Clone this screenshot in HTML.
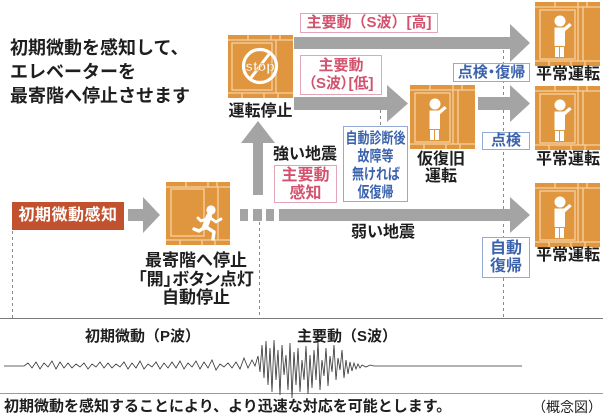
<!DOCTYPE html>
<html><head><meta charset="utf-8"><style>
html,body{margin:0;padding:0;background:#fff;}
#c{position:relative;width:603px;height:417px;overflow:hidden;background:#fff;font-family:"Liberation Sans","Noto Sans CJK JP",sans-serif;}
svg{position:absolute;left:0;top:0;}
.t{position:absolute;white-space:nowrap;text-align:center;font-weight:bold;color:#1e1e1e;}
.pk{position:absolute;box-sizing:border-box;border:1px solid #e2a6b6;background:#fff;color:#d3536f;font-weight:bold;text-align:center;white-space:nowrap;}
.bl{position:absolute;box-sizing:border-box;border:1px solid #93a9d6;background:#fff;color:#3b62ad;font-weight:bold;text-align:center;white-space:nowrap;}
.sq{display:inline-block;transform:scaleX(0.8);transform-origin:center;}
</style></head><body><div id="c">
<svg width="603" height="417" viewBox="0 0 603 417">
<defs>
<g id="frame">
<rect width="65" height="64" fill="#e0963f"/>
<g stroke="#f6d1a0" stroke-width="1.3" fill="none">
<path d="M0 5H65M0 59H65M20 0V5M43 0V5M52 0V5M14 59V64M36 59V64M50 59V64M43 5V59M48 5V59"/>
<rect x="5" y="8" width="35" height="49"/>
</g>
</g>
<g id="ev">
<use href="#frame"/>
<g fill="#fff">
<circle cx="25" cy="19" r="5.5"/>
<path d="M19.5 25.5h9.5l5.5-4.5 2.3 2.3-6.8 6v14.7h-10.5z"/>
<rect x="20" y="45" width="4" height="10"/><rect x="25" y="45" width="4" height="10"/>
</g>
</g>
</defs>

<g stroke="#8a8a8a" stroke-width="1" stroke-dasharray="3 3" fill="none">
<path d="M12.5 231V318M259.5 222V318M503.5 50V318M380.5 110V127"/>
</g>
<path d="M0 318.5H603" stroke="#7a7a7a" stroke-width="1"/>
<path d="M0 393.5H603" stroke="#9a9a9a" stroke-width="1"/>

<g fill="#a4a4a4">
<rect x="128" y="209" width="16" height="12"/><polygon points="143,197 160,215 143,233"/>
<rect x="240" y="209" width="8" height="12"/><rect x="253" y="209" width="9" height="12"/><rect x="266" y="209" width="8" height="12"/>
<rect x="279" y="209" width="232" height="12"/><polygon points="510,197 530,215 510,233"/>
<rect x="253" y="142" width="10" height="53"/><polygon points="241,143 258,121 275,143"/>
<rect x="294" y="37" width="217" height="12"/><polygon points="510,24 530,43 510,62"/>
<rect x="294" y="97" width="95" height="13"/><polygon points="387,85 408,103.5 387,122"/>
<rect x="478" y="97" width="33" height="13"/><polygon points="510,85 530,103.5 510,122"/>
</g>

<use href="#ev" x="410" y="85"/>
<use href="#ev" x="535" y="2"/>
<use href="#ev" x="535" y="86"/>
<use href="#ev" x="535" y="183"/>

<g transform="translate(228,35)">
<rect width="65" height="63" fill="#e0963f"/>
<g stroke="#f6d1a0" stroke-width="1.3" fill="none">
<path d="M0 5H65M0 58H65M20 0V5M43 0V5M52 0V5M14 58V63M36 58V63M50 58V63M48 5V58"/>
<rect x="4" y="8" width="40" height="47"/>
</g>
<circle cx="32" cy="31" r="16.5" fill="none" stroke="#fff" stroke-width="3.2"/>
<line x1="42" y1="18" x2="22" y2="44" stroke="#fff" stroke-width="3"/>
<text x="32" y="36" text-anchor="middle" font-family="Liberation Sans, sans-serif" font-weight="bold" font-size="14" fill="#fff" stroke="#e0963f" stroke-width="0.6">stop</text>
</g>

<g transform="translate(166,182)">
<rect width="64" height="63" fill="#e0963f"/>
<g stroke="#f6d1a0" stroke-width="1.3" fill="none">
<path d="M0 5H64M0 58H64M20 0V5M42 0V5M51 0V5M14 58V63M36 58V63M49 58V63M52 5V58"/>
<rect x="5" y="7" width="33" height="47"/>
</g>
<circle cx="45" cy="28" r="4.6" fill="#fff"/>
<g stroke="#fff" stroke-linecap="round" stroke-linejoin="round" fill="none">
<path d="M43 34L39 45" stroke-width="6"/>
<path d="M43 35L50 40L55 37M42 36L35 39L32 36" stroke-width="2.8"/>
<path d="M39 45L33 49L28 47M40 45L48 50L47 57" stroke-width="3.4"/>
</g>
</g>

<polyline fill="none" stroke="#333" stroke-width="0.8" points="4,366 24,366 28,363 32,368 36,362 40,369 44,363 48,367 52,361 56,369 60,362 64,368 68,363 72,368 76,364 80,367 84,363 88,369 92,364 96,367 100,362 104,368 108,363 112,368 116,364 120,367 124,362 128,369 132,363 136,368 140,361 144,369 148,364 152,367 156,362 160,369 164,363 168,368 172,362 176,368 180,361 184,369 188,363 192,367 196,361 200,369 204,362 208,368 212,360 216,370 220,364 224,367 228,363 232,368 236,362 240,369 244,358 248,368 252,360 255,366 258,356 260,372 262,345 264,378 266,341 268,385 270,348 272,392 274,340 276,380 278,350 280,395 282,345 284,375 286,355 288,390 290,343 292,398 294,352 296,385 298,348 300,392 302,360 304,380 306,346 308,394 310,355 312,388 314,350 316,380 318,342 320,390 322,360 324,376 326,348 328,386 330,356 332,372 334,345 336,380 338,358 340,370 342,350 344,378 346,360 348,374 350,362 352,371 354,363 356,369 358,364 360,368 362,365 366,367 370,365 374,366 522,366"/>
</svg>

<div class="t" style="left:10px;top:36px;font-size:18px;line-height:24px;text-align:left;">初期微動を感知して、<br>エレベーターを<br>最寄階へ停止させます</div>
<div class="t" style="left:225px;width:71px;top:103px;font-size:16px;line-height:17px;">運転停止</div>
<div class="t" style="left:270px;width:70px;top:146px;font-size:16px;line-height:17px;">強い地震</div>
<div class="t" style="left:348px;width:70px;top:224px;font-size:16px;line-height:17px;">弱い地震</div>
<div class="t" style="left:405px;width:72px;top:151px;font-size:16px;line-height:17px;">仮復旧<br>運転</div>
<div class="t" style="left:533px;width:70px;top:66px;font-size:16px;line-height:17px;">平常運転</div>
<div class="t" style="left:533px;width:70px;top:151px;font-size:16px;line-height:17px;">平常運転</div>
<div class="t" style="left:533px;width:70px;top:247px;font-size:16px;line-height:17px;">平常運転</div>
<div class="t" style="left:136px;width:120px;top:252px;font-size:17px;line-height:18.5px;">最寄階へ停止<br><span style="font-feature-settings:'palt';">「開」ボタン点灯</span><br>自動停止</div>

<div style="position:absolute;left:12px;top:202px;width:112px;height:28px;background:#c2522f;color:#fff;font-weight:bold;font-size:16px;line-height:28px;text-align:center;letter-spacing:0.5px;white-space:nowrap;">初期微動感知</div>

<div class="pk" style="left:300px;top:13px;width:138px;height:20px;font-size:15px;line-height:18px;">主要動（S波）[高]</div>
<div class="pk" style="left:300px;top:55px;width:82px;height:40px;font-size:15px;line-height:18px;padding-top:1px;">主要動<br><span style="font-feature-settings:'palt';">（S波）[低]</span></div>
<div class="pk" style="left:274px;top:165px;width:63px;height:38px;font-size:16px;line-height:17.5px;padding-top:1px;">主要動<br>感知</div>

<div class="bl" style="left:343px;top:126px;width:65px;height:76px;font-size:15px;line-height:18px;padding-top:3px;"><span class="sq" style="width:75px;margin:0 -7px;">自動診断後</span><br><span class="sq" style="width:45px;margin:0 -2px;">故障等</span><br><span class="sq" style="width:60px;margin:0 -4px;">無ければ</span><br><span class="sq" style="width:45px;margin:0 -2px;">仮復帰</span></div>
<div class="bl" style="left:453px;top:63px;width:77px;height:19px;font-size:15px;line-height:17px;font-feature-settings:'palt';">点検・復帰</div>
<div class="bl" style="left:482px;top:132px;width:48px;height:18px;font-size:15px;line-height:16px;">点検</div>
<div class="bl" style="left:482px;top:237px;width:48px;height:41px;font-size:16px;line-height:18px;padding-top:2px;">自動<br>復帰</div>

<div class="t" style="left:85px;top:328px;font-size:15px;line-height:17px;text-align:left;">初期微動（P波）</div>
<div class="t" style="left:297px;top:328px;font-size:15px;line-height:17px;text-align:left;">主要動（S波）</div>
<div class="t" style="left:4px;top:398px;font-size:15px;line-height:18px;text-align:left;">初期微動を感知することにより、より迅速な対応を可能とします。</div>
<div class="t" style="left:520px;width:82px;top:399px;font-size:14px;line-height:17px;text-align:right;font-weight:normal;">（概念図）</div>
</div></body></html>
